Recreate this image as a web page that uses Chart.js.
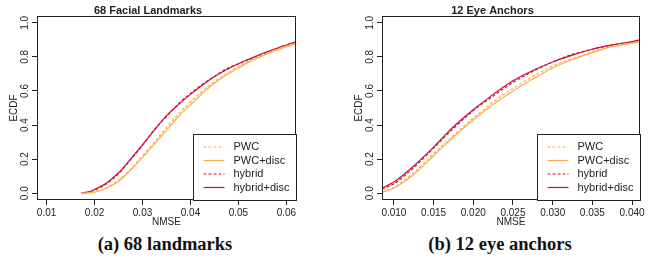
<!DOCTYPE html>
<html>
<head>
<meta charset="utf-8">
<script src="https://cdn.jsdelivr.net/npm/chart.js@4"></script>
<style>
  body { margin: 0; background: #fff; width: 651px; height: 267px; position: relative; overflow: hidden; }
  .panel { position: absolute; top: 0; height: 232px; }
  #p1 { left: 0; width: 325px; }
  #p2 { left: 345px; width: 306px; }
  .cap { position: absolute; top: 234px; width: 220px; text-align: center; color: #111;
         font: bold 18.5px "Liberation Serif", "DejaVu Serif", serif; }
</style>
</head>
<body>
<div class="panel" id="p1"><canvas id="c1"></canvas></div>
<div class="panel" id="p2"><canvas id="c2"></canvas></div>
<div class="cap" style="left:55px">(a) 68 landmarks</div>
<div class="cap" style="left:390px">(b) 12 eye anchors</div>
<script>
// --- datos: 68 puntos faciales ---
const lmX = [0.0172, 0.019, 0.020, 0.0225, 0.025, 0.0275, 0.030, 0.0325, 0.035, 0.0375, 0.040, 0.0425, 0.045, 0.0475, 0.050, 0.0525, 0.055, 0.0575, 0.060, 0.062];
const lmPWC       = [0, 0.003, 0.008, 0.032, 0.075, 0.14, 0.22, 0.30, 0.385, 0.465, 0.535, 0.60, 0.655, 0.70, 0.745, 0.78, 0.81, 0.84, 0.863, 0.88];
const lmPWCdisc   = [0, 0.002, 0.006, 0.030, 0.070, 0.135, 0.21, 0.29, 0.37, 0.45, 0.52, 0.585, 0.645, 0.695, 0.735, 0.775, 0.805, 0.835, 0.86, 0.878];
const lmHybrid    = [0, 0.008, 0.018, 0.055, 0.115, 0.195, 0.28, 0.375, 0.45, 0.525, 0.585, 0.64, 0.685, 0.73, 0.76, 0.79, 0.815, 0.845, 0.87, 0.888];
const lmHybridDisc= [0, 0.010, 0.022, 0.060, 0.120, 0.20, 0.285, 0.37, 0.455, 0.52, 0.58, 0.635, 0.685, 0.725, 0.76, 0.79, 0.82, 0.845, 0.87, 0.89];
const lmTicks = [0.01, 0.02, 0.03, 0.04, 0.05, 0.06];

// --- datos: 12 anclas de ojos ---
const eyeX = [0.0085, 0.010, 0.0125, 0.015, 0.0175, 0.020, 0.0225, 0.025, 0.0275, 0.030, 0.0325, 0.035, 0.0375, 0.040, 0.041];
const eyePWC       = [0.008, 0.035, 0.12, 0.23, 0.34, 0.44, 0.535, 0.615, 0.685, 0.745, 0.79, 0.83, 0.862, 0.882, 0.892];
const eyePWCdisc   = [0.005, 0.030, 0.11, 0.22, 0.33, 0.43, 0.52, 0.60, 0.67, 0.735, 0.785, 0.825, 0.86, 0.88, 0.89];
const eyeHybrid    = [0.025, 0.055, 0.15, 0.265, 0.38, 0.485, 0.57, 0.65, 0.715, 0.77, 0.815, 0.845, 0.87, 0.888, 0.898];
const eyeHybridDisc= [0.030, 0.065, 0.16, 0.27, 0.39, 0.49, 0.58, 0.66, 0.72, 0.77, 0.81, 0.845, 0.87, 0.89, 0.90];
const eyeTicks = [0.010, 0.015, 0.020, 0.025, 0.030, 0.035, 0.040];

const yTicks = [0, 0.2, 0.4, 0.6, 0.8, 1.0];

const ORANGE = '#FDAE4B';
const RED = '#CC1238';
const INK = '#222';
const SANS = '"Liberation Sans", Arial, sans-serif';

// caja, etiquetas rotadas del eje y, leyenda
const framePlugin = {
    id: 'frame',
    afterDraw(chart) {
        const { ctx, chartArea: a, scales } = chart;
        ctx.save();
        ctx.strokeStyle = INK;
        ctx.lineWidth = 1;
        ctx.strokeRect(Math.round(a.left) + 0.5, Math.round(a.top) + 0.5,
                       Math.round(a.right - a.left) - 1, Math.round(a.bottom - a.top) - 1);

        ctx.fillStyle = INK;
        ctx.font = '10px ' + SANS;
        ctx.textAlign = 'center';
        ctx.textBaseline = 'middle';
        yTicks.forEach(v => {
            const y = scales.y.getPixelForValue(v);
            ctx.save();
            ctx.translate(a.left - 12, y);
            ctx.rotate(-Math.PI / 2);
            ctx.fillText(v.toFixed(1), 0, 0);
            ctx.restore();
        });

        // leyenda
        const w = 103, h = 66;
        const bx = Math.round(a.right - w) + 0.5, by = Math.round(a.bottom - h) + 0.5;
        ctx.fillStyle = '#fff';
        ctx.fillRect(bx, by, w, h);
        ctx.strokeRect(bx, by, w, h);
        ctx.font = '11px ' + SANS;
        ctx.textAlign = 'left';
        chart.data.datasets.forEach((ds, i) => {
            const y = by + 12.5 + i * 13.5;
            ctx.beginPath();
            ctx.strokeStyle = ds.borderColor;
            ctx.lineWidth = 1.2;
            ctx.setLineDash(ds.borderDash || []);
            ctx.moveTo(bx + 10, y);
            ctx.lineTo(bx + 31, y);
            ctx.stroke();
            ctx.setLineDash([]);
            ctx.fillStyle = INK;
            ctx.fillText(ds.label, bx + 40, y);
        });
        ctx.restore();
    }
};

function makeChart(id, title, xs, series, xMin, xMax, xTicks, digits) {
    const labels = ['PWC', 'PWC+disc', 'hybrid', 'hybrid+disc'];
    const colors = [ORANGE, ORANGE, RED, RED];
    const dashes = [[3, 2], [], [3, 2], []];
    const datasets = series.map((s, i) => ({
        label: labels[i],
        data: xs.map((x, j) => ({ x: x, y: s[j] })),
        borderColor: colors[i],
        borderWidth: 1.2,
        borderDash: dashes[i],
        pointRadius: 0,
        fill: false,
        cubicInterpolationMode: 'monotone'
    }));

    return new Chart(document.getElementById(id), {
        type: 'line',
        data: { datasets },
        options: {
            responsive: true,
            maintainAspectRatio: false,
            animation: false,
            layout: { padding: { left: 0, right: id === 'c1' ? 29 : 11, top: 0, bottom: 0 } },
            plugins: {
                legend: { display: false },
                tooltip: { enabled: false },
                title: {
                    display: true, text: title, color: INK,
                    font: { family: SANS, size: 11, weight: 'bold', lineHeight: 1 },
                    padding: { top: 5, bottom: 0 }
                }
            },
            scales: {
                x: {
                    type: 'linear', min: xMin, max: xMax,
                    afterBuildTicks: sc => { sc.ticks = xTicks.map(v => ({ value: v })); },
                    afterFit: sc => { sc.height = 32; },
                    border: { display: false },
                    grid: { drawOnChartArea: false, drawTicks: true, tickLength: 5, color: INK },
                    ticks: {
                        color: INK, font: { family: SANS, size: 10 }, padding: 2,
                        maxRotation: 0, minRotation: 0, autoSkip: false,
                        callback: v => v.toFixed(digits)
                    },
                    title: { display: true, text: 'NMSE', color: INK, font: { family: SANS, size: 10, lineHeight: 1 }, padding: { top: 0, bottom: 5 } }
                },
                y: {
                    min: -0.04, max: 1.04,
                    afterBuildTicks: sc => { sc.ticks = yTicks.map(v => ({ value: v })); },
                    afterFit: sc => { sc.width = 37; },
                    border: { display: false },
                    grid: { drawOnChartArea: false, drawTicks: true, tickLength: 5, color: INK },
                    ticks: { display: false },
                    title: { display: true, text: 'ECDF', color: INK, font: { family: SANS, size: 10 }, padding: { top: 8, bottom: 0 } }
                }
            }
        },
        plugins: [framePlugin]
    });
}

makeChart('c1', '68 Facial Landmarks', lmX, [lmPWC, lmPWCdisc, lmHybrid, lmHybridDisc], 0.008, 0.062, lmTicks, 2);
makeChart('c2', '12 Eye Anchors', eyeX, [eyePWC, eyePWCdisc, eyeHybrid, eyeHybridDisc], 0.0085, 0.041, eyeTicks, 3);
</script>
</body>
</html>
